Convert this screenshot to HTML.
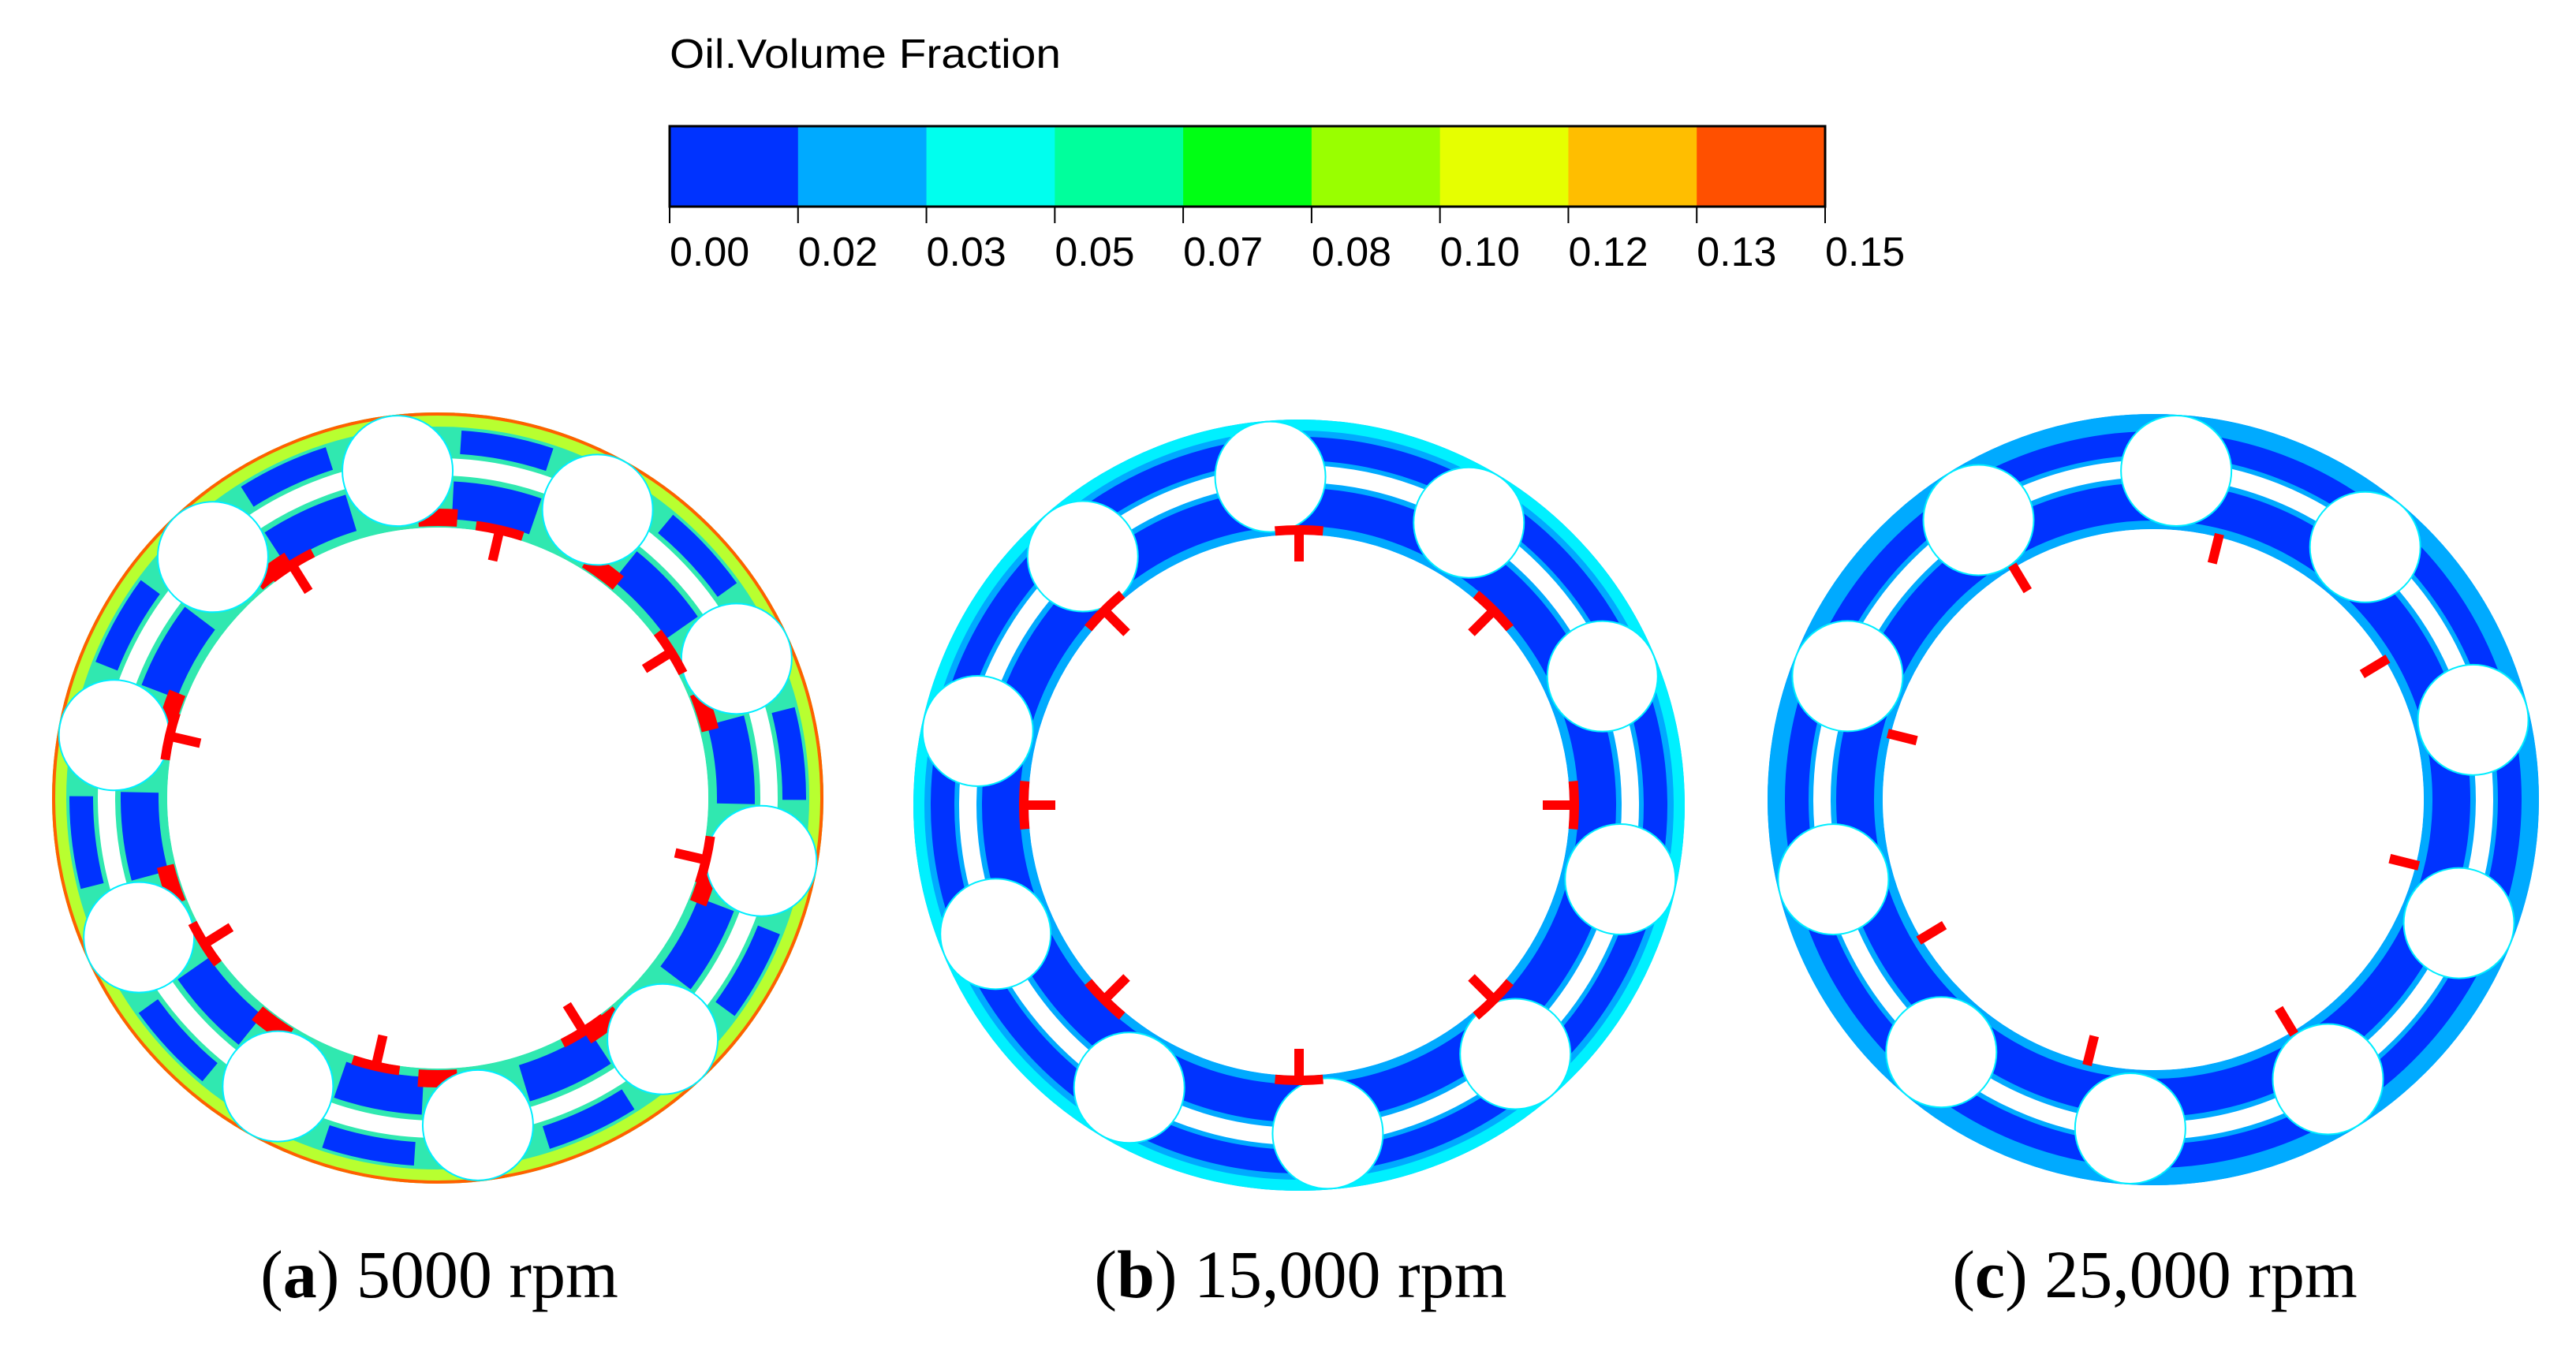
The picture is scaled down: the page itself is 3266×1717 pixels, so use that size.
<!DOCTYPE html>
<html><head><meta charset="utf-8"><style>
html,body{margin:0;padding:0;background:#fff;width:3266px;height:1717px;overflow:hidden}
svg{display:block}
</style></head><body>
<svg id="fig" width="3266" height="1717" viewBox="0 0 3266 1717" xmlns="http://www.w3.org/2000/svg">
<g id="legend"></g>
<g id="rings"></g>
<g id="captions"></g>
</svg>
<script>
const legendColors = ["#0033ff","#00aaff","#00ffee","#00ff9c","#00ff14","#99ff00","#e6ff00","#ffbe00","#ff5000"];
const tickLabels = ["0.00","0.02","0.03","0.05","0.07","0.08","0.10","0.12","0.13","0.15"];
const panelNames = ["a","b","c"];
const panelSpeeds = ["5000 rpm","15,000 rpm","25,000 rpm"];
const ballStartDeg = [-97,-95,-86];
const tickStartDeg = [-77,-90,-76];
const ballCount = [10,10,10];
const tickCount = [8,8,8];

const NS="http://www.w3.org/2000/svg";
function mk(tag,attrs,parent){const e=document.createElementNS(NS,tag);for(const k in attrs)e.setAttribute(k,attrs[k]);parent.appendChild(e);return e;}

// legend
const lg=document.getElementById('legend');
const lx0=849,lx1=2314,ly0=160,ly1=262;
const xScale=v=>lx0+(lx1-lx0)*v/legendColors.length;
const title=mk('text',{x:849,y:86,'font-family':'Liberation Sans, sans-serif','font-size':52,fill:'#000',textLength:496,lengthAdjust:'spacingAndGlyphs'},lg);
title.textContent="Oil.Volume Fraction";


legendColors.forEach((c,i)=>{
  const r=mk('rect',{x:xScale(i),y:ly0,width:xScale(i+1)-xScale(i)+0.5,height:ly1-ly0,fill:c},lg);
  
  
});
const fr=mk('rect',{x:lx0,y:ly0,width:lx1-lx0,height:ly1-ly0,fill:'none',stroke:'#000','stroke-width':3},lg);


tickLabels.forEach((t,i)=>{
  const x=xScale(i);
  const l=mk('line',{x1:x,y1:ly1,x2:x,y2:283,stroke:'#000','stroke-width':2},lg);
  
  
  const tx=mk('text',{x:x,y:337,'font-family':'Liberation Sans, sans-serif','font-size':52,fill:'#000'},lg);
  tx.textContent=t;
  
  
});

// rings
const centers=[[555,1012],[1647,1021],[2730,1014]];
const Rin=343,Rout=489,Rorb=418,Rb=70;
const rg=document.getElementById('rings');
function pt(cx,cy,r,a){const t=a*Math.PI/180;return [cx+r*Math.cos(t),cy+r*Math.sin(t)];}
function arc(g,cx,cy,r,a0,a1,w,col,name){
  const p0=pt(cx,cy,r,a0),p1=pt(cx,cy,r,a1);
  const large=(a1-a0)>180?1:0;
  const e=mk('path',{d:`M${p0[0]},${p0[1]} A${r},${r} 0 ${large} 1 ${p1[0]},${p1[1]}`,fill:'none',stroke:col,'stroke-width':w},g);
  
  
  return e;
}
const styles=[
 {base:'#30e8b0',outer:'#b8ff30',outerW:18,track:'#0033ff',trackW:0.45,red:true},
 {base:'#00aaff',outer:'#00f0ff',outerW:14,track:'#0033ff',trackW:0.85,red:false},
 {base:'#00aaff',outer:'#00aaff',outerW:8,track:'#0033ff',trackW:0.95,red:false}
];
panelNames.forEach((p,i)=>{
  const [cx,cy]=centers[i];const s=styles[i];
  const g=mk('g',{},rg);
  
  
  const ann=mk('circle',{cx,cy,r:(Rin+Rout)/2,fill:'none',stroke:s.base,'stroke-width':Rout-Rin},g);
  
  
  const oe=mk('circle',{cx,cy,r:Rout-s.outerW/2,fill:'none',stroke:s.outer,'stroke-width':s.outerW},g);
  
  
  if(s.red){const re=mk('circle',{cx,cy,r:Rout-2,fill:'none',stroke:'#ff6000','stroke-width':4},g);
    
    }
  const step=360/ballCount[i];
  for(let k=0;k<ballCount[i];k++){
    const a=ballStartDeg[i]+k*step;
    const half=step*s.trackW/2, mid=a+step/2;
    arc(g,cx,cy,378,mid-half,mid+half,48,s.track,'inner-track-patch');
    arc(g,cx,cy,452,mid-half*0.9,mid+half*0.9,30,s.track,'outer-track-patch');
    if(s.red){
      arc(g,cx,cy,356,a+3,a+11,22,'#ff0000','oil-accumulation');
    }
  }
  const cage=mk('circle',{cx,cy,r:420,fill:'none',stroke:'#fff','stroke-width':22},g);
  
  
  for(let k=0;k<ballCount[i];k++){
    const a=ballStartDeg[i]+k*step;
    const [bx,by]=pt(cx,cy,Rorb,a);
    const b=mk('circle',{cx:bx,cy:by,r:Rb,fill:'#fff',stroke:'#00eeff','stroke-width':2},g);
    
    
  }
  const inner=mk('circle',{cx,cy,r:Rin,fill:'#fff'},g);
  
  
  const tstep=360/tickCount[i];
  for(let k=0;k<tickCount[i];k++){
    const a=tickStartDeg[i]+k*tstep;
    const p0=pt(cx,cy,Rin+4,a),p1=pt(cx,cy,Rin-34,a);
    const tk=mk('line',{x1:p0[0],y1:p0[1],x2:p1[0],y2:p1[1],stroke:'#ff0000','stroke-width':12},g);
    
    
    if(i<2) arc(g,cx,cy,Rin+6,a-5,a+5,12,'#ff0000','jet-contact');
  }
});

// captions
const cg=document.getElementById('captions');
panelNames.forEach((p,i)=>{
  const t=mk('text',{x:centers[i][0]+2,y:1645,'text-anchor':'middle','font-family':'Liberation Serif, serif','font-size':86,fill:'#000'},cg);
  
  
  t.appendChild(document.createTextNode('('));
  const b=mk('tspan',{'font-weight':'bold'},t);b.textContent=p;
  t.appendChild(document.createTextNode(') '+panelSpeeds[i]));
});
</script>
</body></html>
